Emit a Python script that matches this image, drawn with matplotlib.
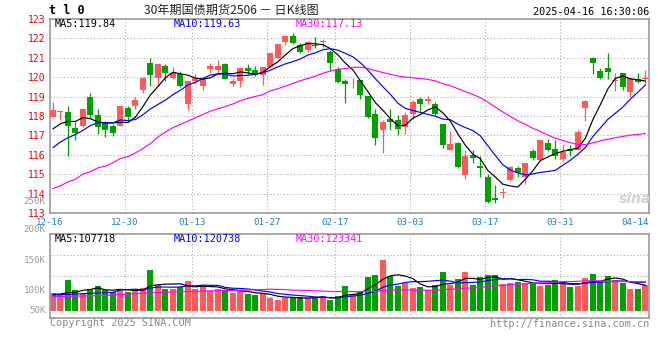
import matplotlib
matplotlib.use('Agg')
import matplotlib.pyplot as plt
import matplotlib.transforms as mtransforms
import numpy as np
import pandas as pd

# --- 数据 ---
tick_idx = [0, 10, 19, 29, 38, 48, 58, 68, 77]
tick_labels = ['12-16', '12-30', '01-13', '01-27', '02-17', '03-03', '03-17', '03-31', '04-14']

opens = [117.94, 118.20, 118.23, 117.36, 117.46, 119.00, 118.03, 117.63, 117.51, 117.51,
         118.42, 118.49, 119.34, 120.73, 119.95, 120.60, 119.98, 120.16, 118.62, 119.78,
         119.56, 120.44, 120.36, 120.67, 119.64, 119.78, 120.50, 120.36, 120.12, 120.53,
         121.00, 121.82, 122.11, 121.65, 121.38, 121.65, 121.82, 121.31, 120.41, 119.78,
         119.83, 119.85, 119.05, 118.08, 117.26, 117.86, 117.77, 117.43, 118.11, 118.88,
         118.76, 118.62, 117.57, 116.24, 116.61, 114.96, 115.98, 115.42, 114.87, 113.77,
         114.02, 114.70, 115.32, 114.87, 116.20, 115.73, 116.61, 116.32, 115.76, 116.32,
         116.27, 118.42, 121.00, 120.33, 120.46, 119.81, 120.24, 119.22, 119.90, 119.93]
highs = [118.71, 118.30, 118.54, 117.68, 118.40, 119.17, 118.38, 117.74, 117.60, 118.59,
         118.49, 118.96, 120.02, 120.97, 120.70, 120.67, 120.53, 120.33, 119.81, 120.16,
         120.02, 120.75, 120.87, 120.75, 119.98, 120.50, 120.70, 120.58, 120.53, 121.26,
         121.69, 122.17, 122.28, 121.77, 121.86, 122.06, 121.99, 121.38, 120.53, 119.90,
         119.98, 119.88, 119.05, 118.37, 117.77, 118.37, 118.03, 118.20, 118.83, 119.00,
         119.03, 118.71, 117.60, 117.22, 116.65, 116.24, 116.24, 115.93, 115.01, 114.45,
         114.28, 115.42, 115.42, 115.59, 116.32, 116.83, 116.83, 116.75, 116.58, 116.49,
         117.26, 118.83, 121.04, 120.46, 121.26, 120.24, 120.24, 119.98, 120.24, 120.36]
lows = [117.94, 117.77, 115.93, 116.75, 117.45, 117.91, 117.05, 116.92, 116.99, 117.46,
        117.77, 118.35, 119.17, 119.56, 119.56, 119.81, 119.90, 119.51, 118.32, 119.64,
        119.34, 120.24, 120.16, 119.90, 119.56, 119.51, 120.16, 120.07, 119.61, 120.46,
        120.97, 121.65, 121.72, 121.26, 121.31, 121.52, 121.52, 120.33, 119.68, 118.66,
        119.44, 118.88, 117.91, 116.49, 116.07, 117.26, 117.00, 117.09, 117.86, 118.25,
        118.62, 118.03, 116.37, 116.24, 115.30, 114.74, 115.56, 114.87, 113.51, 113.51,
        113.77, 114.67, 114.87, 114.50, 115.73, 115.69, 116.20, 115.76, 115.69, 115.93,
        116.27, 117.74, 120.16, 119.90, 119.90, 119.30, 119.34, 119.00, 119.68, 119.64]
closes = [118.33, 118.25, 117.51, 117.12, 118.38, 118.03, 117.43, 117.26, 117.12, 118.54,
          117.97, 118.83, 119.98, 120.12, 120.70, 120.24, 120.24, 119.56, 119.78, 119.95,
          119.98, 120.58, 120.58, 119.93, 119.81, 120.46, 120.33, 120.16, 120.53, 121.26,
          121.69, 122.11, 121.77, 121.31, 121.81, 121.60, 121.89, 120.75, 119.73, 119.64,
          119.88, 119.08, 117.97, 116.88, 117.68, 117.68, 117.33, 118.03, 118.71, 118.62,
          118.88, 118.11, 116.49, 116.58, 115.35, 115.93, 115.81, 115.33, 113.55, 113.65,
          114.09, 115.35, 115.04, 115.56, 115.81, 116.75, 116.27, 115.93, 116.15, 116.20,
          117.17, 118.76, 120.75, 119.98, 120.29, 119.86, 119.47, 119.98, 119.73, 119.97]
# 成交量 (千手)
volumes = [96, 95, 118, 101.6, 95, 103, 108, 101.6, 98.9, 101.6,
           98.9, 103, 105, 134, 110, 104, 104, 107, 116, 103,
           110, 100, 104, 100, 97, 100, 95, 93, 96, 88,
           85, 88, 90.7, 90.7, 88, 88, 91.8, 85, 91.8, 108,
           95, 100, 123, 126, 151, 124.6, 108, 112.6, 105, 107,
           101.6, 110, 131.7, 110, 119.7, 131.7, 110, 123, 126, 126,
           111.5, 113.6, 115, 113.6, 112.6, 108.7, 110, 118, 111.5, 107,
           108.7, 121.8, 127.9, 114, 125, 118, 112.6, 103, 103, 110]

# 窗口开头之前的均线值 (图上读取)
ma5_head = [117.34, 117.60, 117.72, 117.72]
ma10_head = [116.37, 116.66, 116.88, 117.05, 117.26, 117.51, 117.65, 117.65, 117.65]
ma30_head = [114.26, 114.41, 114.60, 114.74, 115.01, 115.13, 115.33, 115.42, 115.59, 115.81,
             115.90, 116.10, 116.32, 116.58, 116.92, 117.17, 117.40, 117.57, 117.74, 117.91,
             118.08, 118.25, 118.37, 118.49, 118.62, 118.79, 118.91, 119.01, 119.10]
vma5_head = [94.5, 95.1, 97.3, 97.8]
vma10_head = [93.4, 93.9, 94.5, 95.0, 95.6, 96.2, 96.7, 97.3, 97.8]
vma30_head = [90.7, 91.0, 91.3, 91.5, 91.8, 92.0, 92.3, 92.8, 93.5, 94.2,
              94.8, 95.5, 96.2, 96.9, 97.5, 98.0, 98.4, 98.8, 99.2, 99.5,
              99.9, 100.2, 100.5, 100.8, 101.0, 101.3, 101.6, 101.9, 102.2]

price_ticks = list(range(113, 124))
vol_tick_labels = ['250K', '200K', '150K', '100K', '50K']
vol_tick_values = [250, 200, 150, 100, 50]

RED = '#ff5a5a'
GREEN = '#00a000'
GRID = '#aaaaaa'
BORDER = '#9a9a9a'
MONO = 'DejaVu Sans Mono'
FS = 6.6

def with_head(values, n, head):
    ma = pd.Series(values).rolling(n).mean().to_numpy()
    ma[:len(head)] = head
    return ma

x = np.arange(len(closes))
o, h, l, c = map(np.array, (opens, highs, lows, closes))
v = np.array(volumes)
cols = np.where(c >= o, RED, GREEN)

W, H = 660, 360
fig = plt.figure(figsize=(W / 100, H / 100), dpi=100)
fig.patch.set_facecolor('white')

def fx(px):
    return px / W

def fy(py):
    return 1 - py / H

ax = fig.add_axes([fx(50), fy(213), fx(599), 194 / H])
axv = fig.add_axes([fx(50), fy(318), fx(599), 84 / H])

XMIN, XMAX = -0.4, 79.5
grid_kw = dict(color=GRID, lw=0.8, ls=(0, (1, 2)), zorder=0)

# --- K线 ---
ax.vlines(x, l, h, colors=cols, lw=0.9, zorder=2)
ax.bar(x, np.maximum(np.abs(c - o), 0.05), bottom=np.minimum(o, c), width=0.8,
       color=cols, lw=0, zorder=3)
ax.plot(x, with_head(closes, 5, ma5_head), color='black', lw=0.85, zorder=4)
ax.plot(x, with_head(closes, 10, ma10_head), color='#0000ff', lw=0.85, zorder=4)
ax.plot(x, with_head(closes, 30, ma30_head), color='#ff00ff', lw=0.85, zorder=4)
ax.set_xlim(XMIN, XMAX)
ax.set_ylim(113, 123)
for p in price_ticks[1:-1]:
    ax.axhline(p, **grid_kw)
ax.set_yticks(price_ticks)
ax.set_yticklabels([str(p) for p in price_ticks], color='#ee0000',
                   family=MONO, fontsize=7.0)
ax.tick_params(axis='y', length=0, pad=3)
ax.set_xticks([])

# --- 成交量 ---
VBOT, VTOP, VBASE = 55.7, 193.4, 67.2
axv.bar(x, v - VBASE, bottom=VBASE, width=0.8, color=cols, lw=0, zorder=2)
axv.plot(x, with_head(volumes, 5, vma5_head), color='black', lw=0.85, zorder=4)
axv.plot(x, with_head(volumes, 10, vma10_head), color='#0000ff', lw=0.85, zorder=4)
axv.plot(x, with_head(volumes, 30, vma30_head), color='#ff00ff', lw=0.85, zorder=4)
axv.set_xlim(XMIN, XMAX)
axv.set_ylim(VBOT, VTOP)
for k in (1, 2, 3):
    axv.axhline(VBOT + (VTOP - VBOT) * k / 4, **grid_kw)
axv.set_xticks([])
axv.set_yticks([])
trv = mtransforms.blended_transform_factory(axv.transAxes, axv.transData)
for lab, val in zip(vol_tick_labels, vol_tick_values):
    # 250K 标签略微下移, 避免压住 114
    yy = max(val, VBASE) - (3 if val == 250 else 0)
    axv.text(-0.007, yy, lab, transform=trv, ha='right', va='center',
             color='#999999', family=MONO, fontsize=FS, clip_on=False)

# 竖向网格和日期
for a in (ax, axv):
    for t in tick_idx[1:-1]:
        a.axvline(t - 0.4, **grid_kw)
    for s in a.spines.values():
        s.set_color(BORDER)
        s.set_linewidth(1.2)
trx = mtransforms.blended_transform_factory(ax.transData, ax.transAxes)
for t, lab in zip(tick_idx, tick_labels):
    xx, ha = t - 0.4, 'center'
    if t == tick_idx[-1]:
        xx, ha = XMAX, 'right'
    ax.text(xx, -0.048, lab, transform=trx, ha=ha, va='center', color='#1a80d0',
            family=MONO, fontsize=FS, clip_on=False)

# --- 文字 ---
fig.text(fx(49), fy(11), 't l 0', ha='left', va='center', family=MONO,
         fontweight='bold', fontsize=8.5)
fig.text(fx(231), fy(10.5), '30年期国债期货2506 － 日K线图', ha='center', va='center',
         family=['Noto Sans CJK SC', 'DejaVu Sans'], fontsize=8.7, color='#222222')
fig.text(fx(649), fy(11.7), '2025-04-16 16:30:06', ha='right', va='center',
         family=MONO, fontsize=7.3)

for px, txt, col in [(55, 'MA5:119.84', 'black'), (174, 'MA10:119.63', '#0000ff'),
                     (296, 'MA30:117.13', '#ff00ff')]:
    fig.text(fx(px), fy(23.7), txt, ha='left', va='center', family=MONO,
             fontsize=7.3, color=col)
for px, txt, col in [(55, 'MA5:107718', 'black'), (174, 'MA10:120738', '#0000ff'),
                     (296, 'MA30:123341', '#ff00ff')]:
    fig.text(fx(px), fy(238.7), txt, ha='left', va='center', family=MONO,
             fontsize=7.3, color=col)

fig.text(fx(50), fy(323.5), 'Copyright 2025 SINA.COM', ha='left', va='center',
         family=MONO, fontsize=7.3, color='#888888')
fig.text(fx(649), fy(324), 'http://finance.sina.com.cn', ha='right', va='center',
         family=MONO, fontsize=7.3, color='#888888')
fig.text(fx(651), fy(199), 'sina', ha='right', va='center', color='#d2d2d2',
         fontsize=10, fontstyle='italic', fontweight='bold')

fig.savefig('out.png', dpi=100, facecolor='white')
